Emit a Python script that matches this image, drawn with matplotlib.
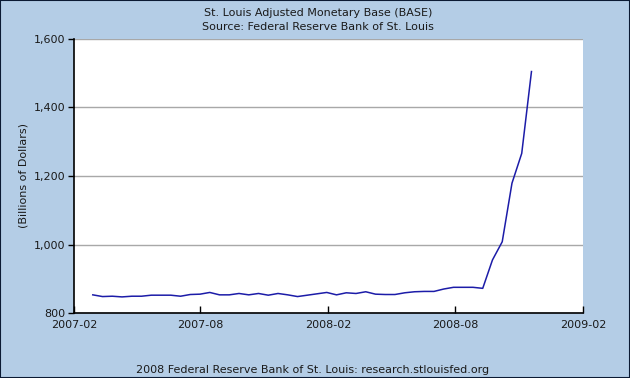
import pandas as pd
import numpy as np
import matplotlib
matplotlib.use('Agg')
import matplotlib.pyplot as plt
import matplotlib.dates as mdates
from matplotlib.patches import Rectangle
from matplotlib.ticker import FuncFormatter

# Biweekly observations (billions of dollars)
start_date = '2007-02-28'
base_values = [853, 848, 849, 847, 849, 849, 852, 852, 852, 849,
               854, 855, 860, 853, 853, 857, 853, 857, 852, 857,
               853, 848, 852, 856, 860, 853, 859, 857, 862, 855,
               854, 854, 859, 862, 863, 863, 870, 875, 875, 875,
               872, 955, 1008, 1179, 1266, 1505]
dates = pd.date_range(start_date, periods=len(base_values), freq='14D')

x_ticks = ['2007-02-01', '2007-08-01', '2008-02-01', '2008-08-01', '2009-02-01']
y_ticks = [800, 1000, 1200, 1400, 1600]

title_lines = ['St. Louis Adjusted Monetary Base (BASE)',
               'Source: Federal Reserve Bank of St. Louis']
y_label = '(Billions of Dollars)'
footer = '2008 Federal Reserve Bank of St. Louis: research.stlouisfed.org'

bg = '#b4cde6'
fs = 8
plt.rcParams['font.family'] = ['DejaVu Sans']

fig = plt.figure(figsize=(6.3, 3.78), dpi=100, facecolor=bg)
ax = fig.add_axes([74/630, 1-313/378, (583-74)/630, (313-39)/378])
ax.set_facecolor('white')

ax.plot(dates, base_values, color='#1c1ca8', lw=1.1)

ax.set_xlim(pd.Timestamp(x_ticks[0]), pd.Timestamp(x_ticks[-1]))
ax.set_ylim(800, 1600)
ax.set_xticks([pd.Timestamp(t) for t in x_ticks])
ax.xaxis.set_major_formatter(mdates.DateFormatter('%Y-%m'))
ax.set_yticks(y_ticks)
ax.yaxis.set_major_formatter(FuncFormatter(lambda v, p: f'{int(v):,}'))

ax.grid(axis='y', color='#a8a8a8', lw=1)
ax.set_axisbelow(True)
for s in ['top', 'right']:
    ax.spines[s].set_visible(False)
for s in ['left', 'bottom']:
    ax.spines[s].set_color('black')
    ax.spines[s].set_linewidth(1.2)
ax.tick_params(axis='x', direction='in', length=5, width=1, labelsize=fs, pad=5, colors='black')
ax.tick_params(axis='y', direction='out', length=4, width=1, labelsize=fs, pad=2, colors='black')
for lab in ax.get_xticklabels() + ax.get_yticklabels():
    lab.set_color('#1a1a1a')

ax.set_ylabel(y_label, fontsize=fs, color='#1a1a1a', labelpad=4)

fig.text(318/630, 1-13/378, title_lines[0], ha='center', va='center', fontsize=fs, color='#1a1a1a')
fig.text(318/630, 1-27/378, title_lines[1], ha='center', va='center', fontsize=fs, color='#1a1a1a')
fig.text(313/630, 1-370/378, footer, ha='center', va='center', fontsize=fs, color='#1a1a1a')

fig.patches.append(Rectangle((0, 0), 1, 1, transform=fig.transFigure, fill=False,
                             edgecolor='#0b1a33', lw=1.5, zorder=10))

fig.savefig('out.png', dpi=100, facecolor=bg)
